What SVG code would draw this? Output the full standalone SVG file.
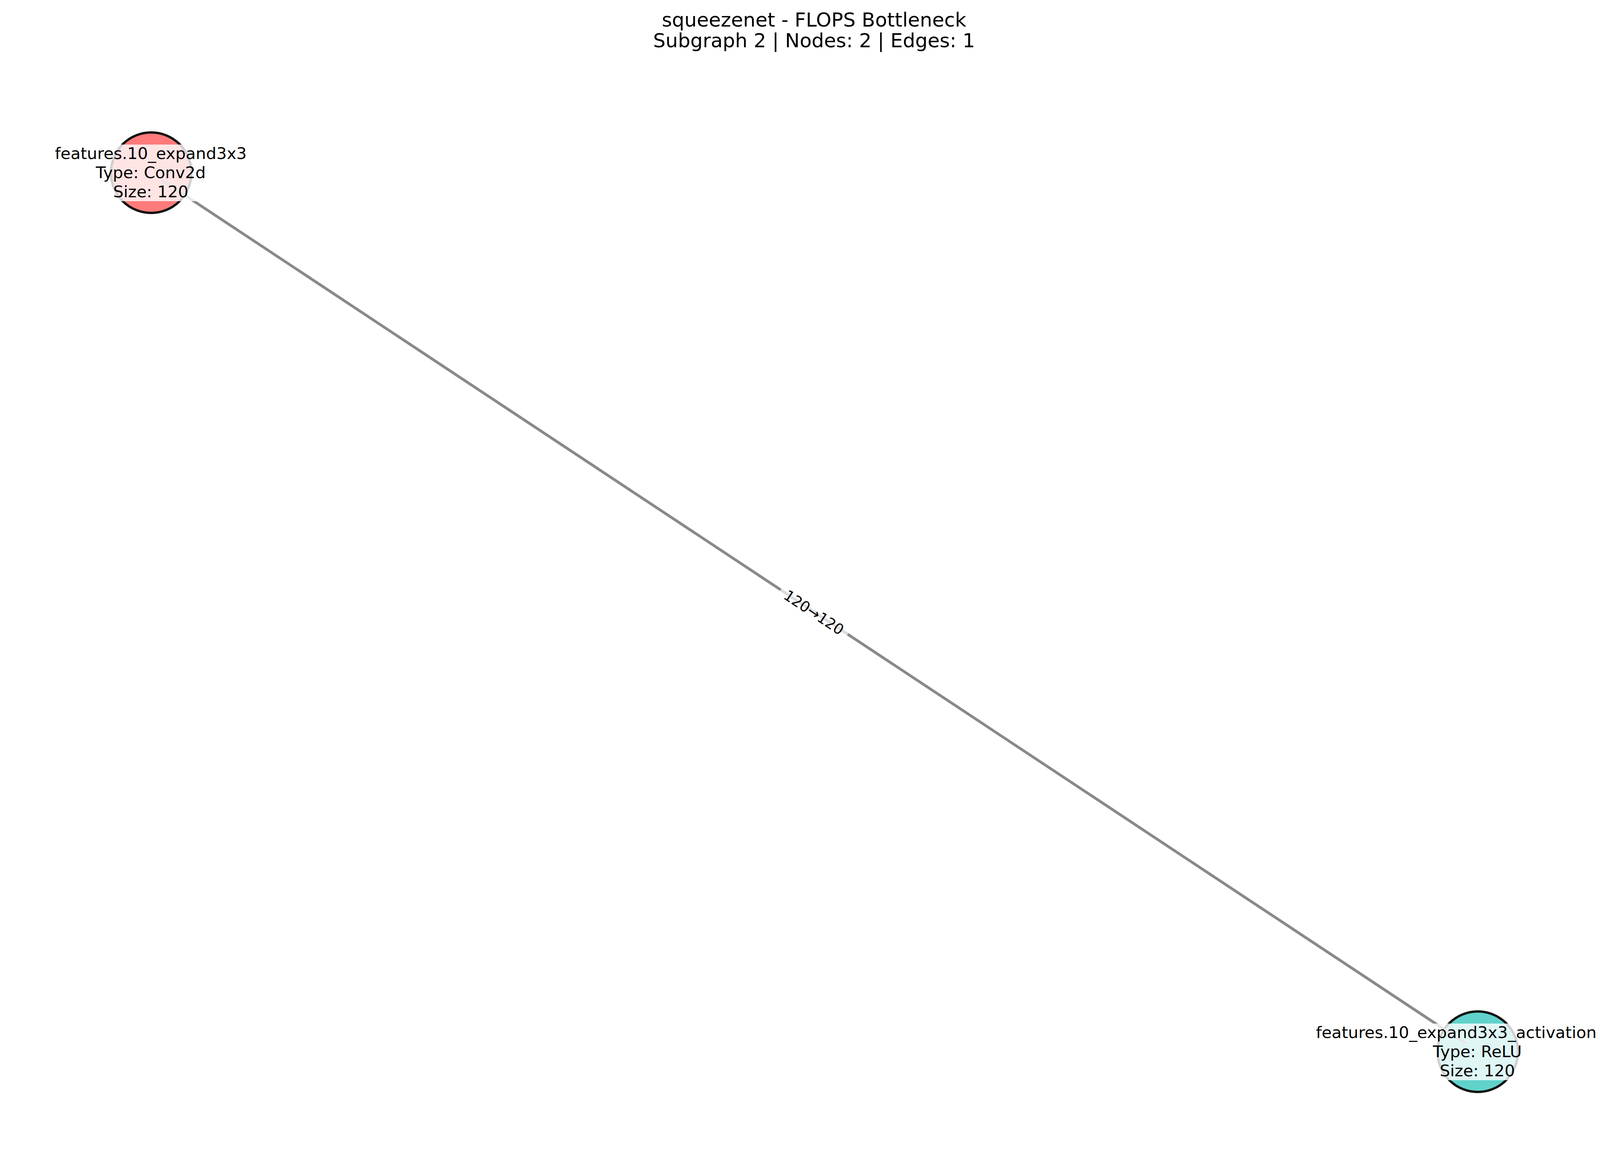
<svg xmlns="http://www.w3.org/2000/svg" width="4170" height="2959" viewBox="0 0 4170 2959">
<style>
text { font-family: "DejaVu Sans", "Liberation Sans", sans-serif; fill: #000; }
.title { font-size: 50px; text-anchor: middle; }
.nlabel { font-size: 41.67px; text-anchor: middle; }
.elabel { font-size: 37.5px; text-anchor: middle; }
.node { stroke: #111; stroke-width: 6; }
.lbox { fill: #fff; fill-opacity: 0.8; stroke: none; }
.ebox { fill: #fff; fill-opacity: 0.7; stroke: none; }
.edge { stroke: #898989; stroke-width: 7; fill: none; }
</style>
<rect width="4170" height="2959" fill="#fff"/>
<g id="title">
<text class="title" x="2084" y="68">squeezenet - FLOPS Bottleneck</text>
<text class="title" x="2084" y="121">Subgraph 2 | Nodes: 2 | Edges: 1</text>
</g>
<g id="node-features.10_expand3x3">
<circle class="node" cx="387" cy="442" r="103" fill="#FF7A7A"/>
</g>
<g id="node-features.10_expand3x3_activation">
<circle class="node" cx="3783" cy="2692" r="103" fill="#60D2CA"/>
</g>
<g id="connectors">
<line class="edge" x1="415" y1="461" x2="3752" y2="2671"/>
<g transform="rotate(33.53 2084 1567)">
<rect class="ebox" x="1981" y="1530" width="206" height="74" rx="14"/>
<text class="elabel" x="2084" y="1581">120→120</text>
</g>
</g>
<g id="label-features.10_expand3x3">
<rect class="lbox" x="129" y="370" width="515" height="145" rx="12"/>
<text class="nlabel" x="386" y="407">features.10_expand3x3</text>
<text class="nlabel" x="386" y="456">Type: Conv2d</text>
<text class="nlabel" x="386" y="505">Size: 120</text>
</g>
<g id="label-features.10_expand3x3_activation">
<rect class="lbox" x="3356" y="2620" width="744" height="145" rx="12"/>
<text class="nlabel" x="3728" y="2657">features.10_expand3x3_activation</text>
<text class="nlabel" x="3782" y="2706">Type: ReLU</text>
<text class="nlabel" x="3782" y="2755">Size: 120</text>
</g>
</svg>
